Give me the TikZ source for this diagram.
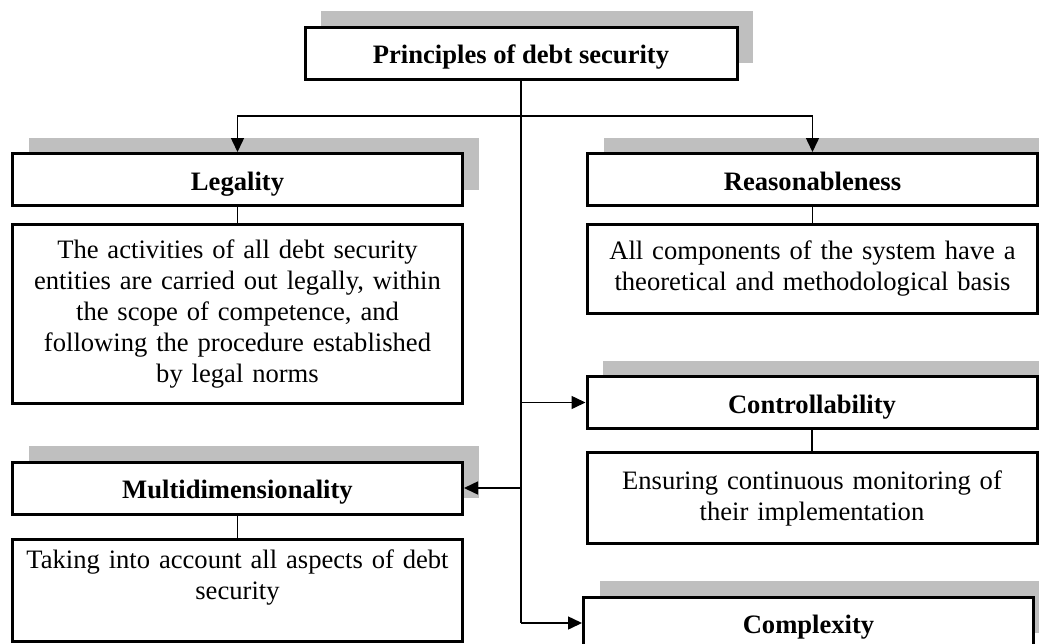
\documentclass[tikz,border=0pt]{standalone}
\usepackage{fontspec}
\setmainfont{Liberation Serif}
\usetikzlibrary{arrows.meta,positioning,shadows}
\definecolor{shadowgray}{RGB}{191,191,191}

\begin{document}
\begin{tikzpicture}[
  x=0.5pt, y=-0.5pt,
  head/.style={rectangle, draw=black, line width=1.5pt, fill=white,
               minimum width=225pt, minimum height=26pt, inner sep=2pt,
               text height=12pt, text depth=1.5pt,
               font=\fontsize{13.3}{15.5}\selectfont\bfseries,
               general shadow={fill=shadowgray, shadow xshift=8pt, shadow yshift=8pt}},
  desc/.style={rectangle, draw=black, line width=1.5pt, fill=white,
               minimum width=225pt, text width=221pt, inner xsep=2pt,
               align=center, font=\fontsize{13.3}{15.5}\selectfont},
  arr/.style={-{Triangle[length=7pt, width=6.5pt]}, line width=0.75pt},
  link/.style={line width=0.75pt}
]
  \useasboundingbox (0,0) rectangle (1039,643);
  \clip (0,0) rectangle (1039,643);

  \node[head, minimum width=216pt] (title)   at (521,53)      {Principles of debt security};
  \node[head] (legal)   at (237.5,179.5) {Legality};
  \node[head] (reason)  at (812.5,179.5) {Reasonableness};
  \node[head] (control) at (812,402.5)   {Controllability};
  \node[head] (multi)   at (237.5,488)   {Multidimensionality};
  \node[head] (complex) at (808.5,623)   {Complexity};

  \node[desc, below=8pt of legal, minimum height=89.5pt] (legaltext)
    {The activities of all debt security\\entities are carried out legally, within\\the scope of competence, and\\following the procedure established\\by legal norms};
  \node[desc, below=8pt of reason, minimum height=44.5pt] (reasontext)
    {All components of the system have a\\theoretical and methodological basis};
  \node[desc, below=10.5pt of control, minimum height=45.5pt] (controltext)
    {Ensuring continuous monitoring of\\their implementation};
  \node[desc, below=11pt of multi, minimum height=51pt] (multitext)
    {Taking into account all aspects of debt\\security\\\mbox{}};

  \coordinate (forkrow) at (0,116);
  \coordinate (fork) at (title.south |- forkrow);

  \draw[link] (title.south) -- (title.south |- complex.west);
  \draw[arr] (fork) -| (legal.north);
  \draw[arr] (fork) -| (reason.north);
  \draw[arr] (title.south |- control.west) -- (control.west);
  \draw[arr] (title.south |- multi.east) -- (multi.east);
  \draw[arr] (title.south |- complex.west) -- (complex.west);

  \draw[link] (legal) -- (legaltext);
  \draw[link] (reason) -- (reasontext);
  \draw[link] (control) -- (controltext);
  \draw[link] (multi) -- (multitext);
\end{tikzpicture}
\end{document}
